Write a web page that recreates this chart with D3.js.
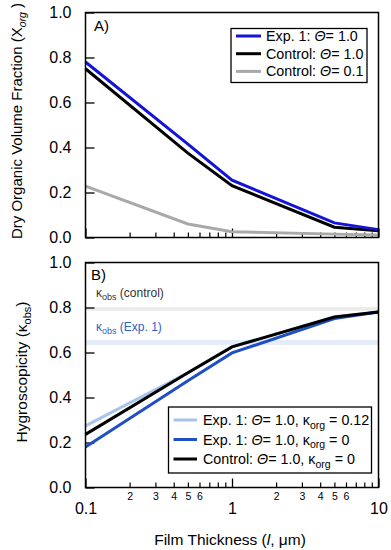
<!DOCTYPE html>
<html><head><meta charset="utf-8">
<script src="https://cdn.jsdelivr.net/npm/d3@7"></script>
<style>
body{margin:0;background:#fff;}
text{font-family:Arial,"Liberation Sans",sans-serif;}
</style></head>
<body><svg id="c" width="391" height="550"></svg>
<script>
// ---------- data ----------
const thickness = [0.1, 0.5, 1, 5, 10];
// Panel A: dry organic volume fraction
const xorgExp1 = [0.78, 0.415, 0.255, 0.065, 0.035];
const xorgCtrl = [0.75, 0.375, 0.23, 0.046, 0.03];
const xorgCtrl01 = [0.228, 0.06, 0.026, 0.015, 0.011];
// Panel B: hygroscopicity
const kapExp1k012 = [0.274, 0.51, 0.625, 0.758, 0.78];
const kapExp1k0 = [0.18, 0.474, 0.598, 0.751, 0.78];
const kapCtrlk0 = [0.236, 0.51, 0.625, 0.758, 0.78];
const kobsControl = [0.785, 0.802];
const kobsExp1 = [0.634, 0.656];
const yTicks = [0, 0.2, 0.4, 0.6, 0.8, 1.0];
const xMajor = [0.1, 1, 10];
const xMinor = [0.2,0.3,0.4,0.5,0.6,0.7,0.8,0.9,2,3,4,5,6,7,8,9];
const xMinorLabels = [0.2,0.3,0.4,0.5,0.6,2,3,4,5,6];

const svg = d3.select("#c");
const x = d3.scaleLog().domain([0.1, 10]).range([85.5, 378.5]);
const yA = d3.scaleLinear().domain([0, 1]).range([237.5, 12.5]);
const yB = d3.scaleLinear().domain([0, 1]).range([487.5, 262.5]);

function frame(y){
  const g = svg.append("g");
  g.append("g").attr("transform",`translate(${x.range()[0]},0)`)
    .call(d3.axisLeft(y).tickValues(yTicks).tickSize(-9).tickPadding(14).tickFormat(d3.format(".1f")))
    .call(a=>{a.select(".domain").remove();
      a.selectAll("line").attr("stroke","#000").attr("stroke-width",1.3);
      a.selectAll("text").attr("font-size",16).attr("fill","#000");});
  const by = y.range()[0];
  g.append("g").attr("transform",`translate(0,${by})`)
    .call(d3.axisBottom(x).tickValues(xMinor).tickSize(-5).tickFormat(""))
    .call(a=>{a.select(".domain").remove();a.selectAll("line").attr("stroke","#000").attr("stroke-width",1.2);});
  g.append("g").attr("transform",`translate(0,${by})`)
    .call(d3.axisBottom(x).tickValues(xMajor).tickSize(-9).tickFormat(""))
    .call(a=>{a.select(".domain").remove();a.selectAll("line").attr("stroke","#000").attr("stroke-width",1.3);});
  return g;
}
function box(y){
  svg.append("rect").attr("x",x.range()[0]).attr("y",y.range()[1])
    .attr("width",x.range()[1]-x.range()[0]).attr("height",y.range()[0]-y.range()[1])
    .attr("fill","none").attr("stroke","#000").attr("stroke-width",1.5);
}
function line(y, vals, color, w){
  svg.append("path").datum(vals.map((v,i)=>[thickness[i],v]))
    .attr("d", d3.line().x(d=>x(d[0])).y(d=>y(d[1])))
    .attr("fill","none").attr("stroke",color).attr("stroke-width",w||3).attr("stroke-linejoin","miter");
}

// ---------- Panel A ----------
frame(yA);
line(yA, xorgCtrl01, "#a9a9a9");
line(yA, xorgCtrl, "#000");
line(yA, xorgExp1, "#1414d8");
box(yA);
svg.append("text").attr("x",94).attr("y",31).attr("font-size",15).text("A)");

// legend A
const lgA = svg.append("g");
lgA.append("rect").attr("x",231).attr("y",28.5).attr("width",136).attr("height",54)
  .attr("fill","#fff").attr("stroke","#000").attr("stroke-width",1.3);
const legA = [["Exp. 1: ","1.0","#1414d8"],["Control: ","1.0","#000"],["Control: ","0.1","#a9a9a9"]];
legA.forEach((d,i)=>{
  const yy = 36 + i*17.7;
  lgA.append("line").attr("x1",236).attr("x2",261).attr("y1",yy).attr("y2",yy).attr("stroke",d[2]).attr("stroke-width",3);
  const t = lgA.append("text").attr("x",266).attr("y",yy+5).attr("font-size",14.3);
  t.append("tspan").text(d[0]);
  t.append("tspan").attr("font-style","italic").text("Θ");
  t.append("tspan").text("= "+d[1]);
});

// ---------- Panel B ----------
svg.append("rect").attr("x",x.range()[0]).attr("width",x.range()[1]-x.range()[0])
  .attr("y",yB(kobsControl[1])).attr("height",yB(kobsControl[0])-yB(kobsControl[1])).attr("fill","#ececec");
svg.append("rect").attr("x",x.range()[0]).attr("width",x.range()[1]-x.range()[0])
  .attr("y",yB(kobsExp1[1])).attr("height",yB(kobsExp1[0])-yB(kobsExp1[1])).attr("fill","#e3ecf8");
frame(yB);
line(yB, kapExp1k012, "#a9c4ea");
line(yB, kapExp1k0, "#1f4fc4");
line(yB, kapCtrlk0, "#000");
box(yB);
svg.append("text").attr("x",91).attr("y",280).attr("font-size",15).text("B)");

function kappaLabel(xx, yy, sub, rest, color){
  const t = svg.append("text").attr("x",xx).attr("y",yy).attr("font-size",12).attr("fill",color);
  t.append("tspan").text("κ");
  t.append("tspan").attr("font-size",9).attr("dy",3).text(sub);
  t.append("tspan").attr("dy",-3).text(" "+rest);
}
kappaLabel(96, 296.5, "obs", "(control)", "#333");
kappaLabel(96, 330.5, "obs", "(Exp. 1)", "#2a62c6");

// legend B
const lgB = svg.append("g");
lgB.append("rect").attr("x",168.5).attr("y",407).attr("width",203).attr("height",66)
  .attr("fill","#fff").attr("stroke","#000").attr("stroke-width",1.3);
const legB = [["Exp. 1: ","0.12","#a9c4ea"],["Exp. 1: ","0","#1f4fc4"],["Control: ","0","#000"]];
legB.forEach((d,i)=>{
  const yy = 420 + i*19.5;
  lgB.append("line").attr("x1",173.5).attr("x2",197).attr("y1",yy).attr("y2",yy).attr("stroke",d[2]).attr("stroke-width",3);
  const t = lgB.append("text").attr("x",203).attr("y",yy+5).attr("font-size",14.3);
  t.append("tspan").text(d[0]);
  t.append("tspan").attr("font-style","italic").text("Θ");
  t.append("tspan").text("= 1.0, κ");
  t.append("tspan").attr("font-size",10.5).attr("dy",3.5).text("org");
  t.append("tspan").attr("dy",-3.5).text(" = "+d[1]);
});

// x labels for panel B
svg.append("g").attr("transform",`translate(0,${yB.range()[0]})`)
  .call(d3.axisBottom(x).tickValues(xMinorLabels).tickSize(0).tickPadding(5).tickFormat(d=>d<1?String(Math.round(d*10)):String(d)))
  .call(a=>{a.select(".domain").remove();a.selectAll("text").attr("font-size",10.5).attr("fill","#000");});
svg.append("g").attr("transform",`translate(0,${yB.range()[0]})`)
  .call(d3.axisBottom(x).tickValues(xMajor).tickSize(0).tickPadding(15).tickFormat(d=>String(d)))
  .call(a=>{a.select(".domain").remove();a.selectAll("text").attr("font-size",16).attr("fill","#000");});

// axis titles
const tA = svg.append("text").attr("transform","translate(22,121) rotate(-90)").attr("text-anchor","middle").attr("font-size",15);
tA.append("tspan").text("Dry Organic Volume Fraction (X");
tA.append("tspan").attr("font-size",10.5).attr("font-style","italic").attr("dy",3.5).text("org");
tA.append("tspan").attr("dy",-3.5).text(" )");
const tB = svg.append("text").attr("transform","translate(27,372) rotate(-90)").attr("text-anchor","middle").attr("font-size",15.5);
tB.append("tspan").text("Hygroscopicity (κ");
tB.append("tspan").attr("font-size",11).attr("dy",3.5).text("obs");
tB.append("tspan").attr("dy",-3.5).text(")");
const tX = svg.append("text").attr("x",230).attr("y",545).attr("text-anchor","middle").attr("font-size",15.5);
tX.append("tspan").text("Film Thickness (");
tX.append("tspan").attr("font-style","italic").text("l");
tX.append("tspan").text(", μm)");
</script></body></html>
